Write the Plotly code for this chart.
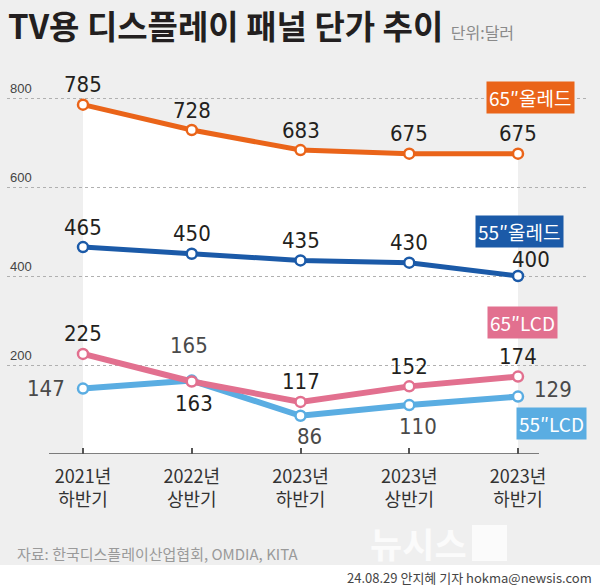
import plotly.graph_objects as go

# ---------------- data ----------------
categories = ["2021년<br>하반기", "2022년<br>상반기", "2023년<br>하반기", "2023년<br>상반기", "2023년<br>하반기"]
oled65 = [785, 728, 683, 675, 675]
oled55 = [465, 450, 435, 430, 400]
lcd65 = [225, 163, 117, 152, 174]
lcd55 = [147, 165, 86, 110, 129]
ytick_vals = [200, 400, 600, 800]
series_names = ["65″올레드", "55″올레드", "65″LCD", "55″LCD"]

# label placement keywords (style only)
place_oled65 = ["above", "above", "above", "above", "above"]
place_oled55 = ["above", "above", "above", "above", "above_right"]
place_lcd65 = ["above", "below", "above", "above", "above"]
place_lcd55 = ["left", "above_far", "below_right", "below_right", "right"]

# ---------------- style ----------------
W, H = 600, 587
ML, MR, MT, MB = 7, 12, 60, 133
BG = "#efefef"
C_ORANGE = "#ea6419"
C_BLUE = "#1b5aa8"
C_PINK = "#e2708f"
C_LBLUE = "#5aade2"
NUM_FONT = "DejaVu Sans Condensed, Liberation Sans Narrow, Arial Narrow, sans-serif"
KR_FONT = "Noto Sans CJK KR, sans-serif"

PW = W - ML - MR
PH = H - MT - MB


def px2paper(px, py):
    return (px - ML) / PW, (H - MB - py) / PH


shift = {
    "above": (0, 20, "center"),
    "above_right": (13, 17, "center"),
    "above_far": (-3, 35, "center"),
    "below": (2, -22, "center"),
    "below_right": (9, -21, "center"),
    "left": (-16, 0, "right"),
    "right": (14, 7, "left"),
}

xs = list(range(len(categories)))
fig = go.Figure()

series = [
    (oled65, C_ORANGE, place_oled65, "#231f20", 5, series_names[0]),
    (oled55, C_BLUE, place_oled55, "#231f20", 5, series_names[1]),
    (lcd55, C_LBLUE, place_lcd55, "#4a4a4a", 6, series_names[3]),
    (lcd65, C_PINK, place_lcd65, "#231f20", 6, series_names[2]),
]

for vals, col, _, _, lw, nm in series:
    fig.add_trace(go.Scatter(
        x=xs, y=vals, mode="lines+markers", name=nm,
        line=dict(color=col, width=lw),
        marker=dict(size=10, color="white", line=dict(color=col, width=2.5)),
        hoverinfo="skip", showlegend=False,
    ))

annotations = []
for vals, col, places, tcol, _, _ in series:
    for x, v, p in zip(xs, vals, places):
        dx, dy, xa = shift[p]
        annotations.append(dict(
            x=x, y=v, xref="x", yref="y", text=str(v), showarrow=False,
            xshift=dx, yshift=dy, xanchor=xa, yanchor="middle",
            font=dict(family=NUM_FONT, size=22, color=tcol),
        ))

# white area under the top series
path = "M {} 0 ".format(xs[0]) + " ".join("L {} {}".format(x, v) for x, v in zip(xs, oled65)) + " L {} 0 Z".format(xs[-1])
shapes = [
    dict(type="path", path=path, xref="x", yref="y", fillcolor="white", line=dict(width=0), layer="below"),
]

# x axis baseline
bx0 = (49 - 83) / 108.75
bx1 = (539 - 83) / 108.75
shapes.append(dict(type="line", xref="x", yref="y", x0=bx0, x1=bx1, y0=0, y1=0,
                   line=dict(color="#555555", width=1.5)))

# bottom white strip
_, sy0 = px2paper(0, 565)
_, sy1 = px2paper(0, 590)
shapes.append(dict(type="rect", xref="paper", yref="paper", x0=-0.05, x1=1.05, y0=sy1, y1=sy0,
                   fillcolor="white", line=dict(width=0), layer="below"))

# badges
badges = [
    (series_names[0], C_ORANGE, 530, 98),
    (series_names[1], C_BLUE, 519, 231),
    (series_names[2], C_PINK, 522, 322),
    (series_names[3], C_LBLUE, 551, 423),
]
for txt, col, cx, cy in badges:
    bx, by = px2paper(cx, cy)
    annotations.append(dict(
        x=bx, y=by, xref="paper", yref="paper", text=txt, showarrow=False,
        xanchor="center", yanchor="middle", bgcolor=col, borderpad=2,
        font=dict(family=KR_FONT, size=19, color="white"),
    ))

# source, credit
sx, sy = px2paper(15, 553)
annotations.append(dict(x=sx, y=sy, xref="paper", yref="paper", xanchor="left", yanchor="middle",
                        text="자료: 한국디스플레이산업협회, OMDIA, KITA", showarrow=False,
                        font=dict(family=KR_FONT, size=15, color="#9a9a9a")))
cx_, cy_ = px2paper(594, 577)
annotations.append(dict(x=cx_, y=cy_, xref="paper", yref="paper", xanchor="right", yanchor="middle",
                        text="24.08.29 안지혜 기자 hokma@newsis.com", showarrow=False,
                        font=dict(family=KR_FONT, size=13, color="#444444")))
# watermark
lx, ly = px2paper(418, 542)
annotations.append(dict(x=lx, y=ly, xref="paper", yref="paper", xanchor="center", yanchor="middle",
                        text="<b>뉴시스</b>", showarrow=False,
                        font=dict(family=KR_FONT, size=35, color="#fbfbfb")))
d0x, d0y = px2paper(472, 525)
d1x, d1y = px2paper(507, 561)
shapes.append(dict(type="rect", xref="paper", yref="paper", x0=d0x, x1=d1x, y0=d1y, y1=d0y,
                   fillcolor="#fbfbfb", line=dict(width=0)))

fig.update_layout(
    width=W, height=H,
    margin=dict(l=ML, r=MR, t=MT, b=MB),
    paper_bgcolor=BG, plot_bgcolor="rgba(0,0,0,0)",
    title=dict(
        text="<b>TV용 디스플레이 패널 단가 추이</b> <span style='font-size:16px;color:#8a8a8a;font-weight:normal'>단위:달러</span>",
        x=8 / W, xanchor="left", xref="container",
        y=1 - 27 / H, yanchor="middle", yref="container",
        font=dict(family=KR_FONT, size=33, color="#231f20"),
    ),
    xaxis=dict(
        range=[(ML - 83) / 108.75, (W - MR - 83) / 108.75],
        tickmode="array", tickvals=xs, ticktext=categories,
        ticks="inside", ticklen=6, tickwidth=1.5, tickcolor="#555555",
        showgrid=False, zeroline=False, showline=False,
        ticklabelstandoff=10,
        tickfont=dict(family=KR_FONT, size=18, color="#333333"),
        fixedrange=True,
    ),
    yaxis=dict(
        range=[0, PH / 0.445],
        tickmode="array", tickvals=ytick_vals,
        showgrid=True, gridcolor="#b0b0b0", griddash="dot", gridwidth=1,
        zeroline=False, showline=False, ticks="",
        ticklabelposition="inside top",
        tickfont=dict(family="Liberation Sans, Arial, sans-serif", size=13, color="#444444"),
        fixedrange=True,
    ),
    shapes=shapes,
    annotations=annotations,
)

fig.write_html("out.html", config={"displayModeBar": False},
               post_script="document.body.style.margin='0';document.body.style.padding='0';")
